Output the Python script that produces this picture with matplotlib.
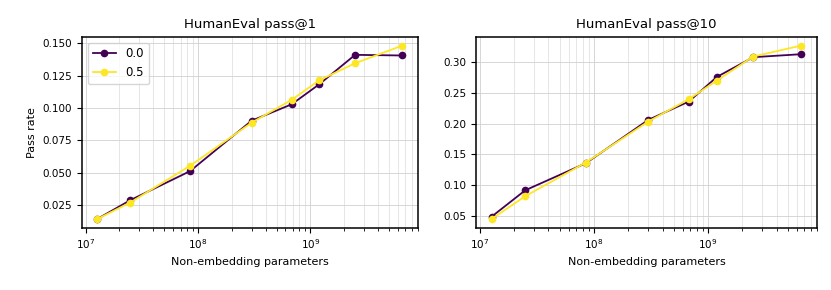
import matplotlib
matplotlib.use("Agg")
import matplotlib.pyplot as plt
from matplotlib.ticker import MultipleLocator
import numpy as np

params = [1.27e7, 2.5e7, 8.5e7, 3.0e8, 6.8e8, 1.2e9, 2.5e9, 6.6e9]
temps = ["0.0", "0.5"]
pass1_t00 = [0.0144, 0.0289, 0.0513, 0.0902, 0.1028, 0.1183, 0.1410, 0.1405]
pass1_t05 = [0.0144, 0.0271, 0.0554, 0.0887, 0.1062, 0.1214, 0.1345, 0.1482]
pass10_t00 = [0.0489, 0.0917, 0.1357, 0.2062, 0.2360, 0.2761, 0.3081, 0.3130]
pass10_t05 = [0.0451, 0.0821, 0.1368, 0.2035, 0.2398, 0.2702, 0.3092, 0.3271]
titles = ["HumanEval pass@1", "HumanEval pass@10"]
colors = ["#440154", "#fde725"]

fig = plt.figure(figsize=(8.31, 2.9), dpi=100)
ax1 = fig.add_axes([0.0987, 0.215, 0.404, 0.658])
ax2 = fig.add_axes([0.573, 0.215, 0.410, 0.658])

for ax, title, series, step in [(ax1, titles[0], [pass1_t00, pass1_t05], 0.025),
                                (ax2, titles[1], [pass10_t00, pass10_t05], 0.05)]:
    for vals, lab, c in zip(series, temps, colors):
        ax.plot(params, vals, marker="o", markersize=4.5, linewidth=1.3, color=c, label=lab)
    ax.set_xscale("log")
    ax.yaxis.set_major_locator(MultipleLocator(step))
    ax.set_title(title, fontsize=9.5)
    ax.set_xlabel("Non-embedding parameters", fontsize=8)
    ax.tick_params(labelsize=7.5)
    ax.grid(True, which="major", color="#d0d0d0", linewidth=0.6)
    ax.grid(True, which="minor", axis="x", color="#dcdcdc", linewidth=0.5)
    ax.set_axisbelow(True)
    for s in ax.spines.values():
        s.set_linewidth(1.1)

ax1.set_ylabel("Pass rate", fontsize=8)
ax1.legend(loc="upper left", fontsize=8.5)

fig.savefig("out.png", dpi=100)
